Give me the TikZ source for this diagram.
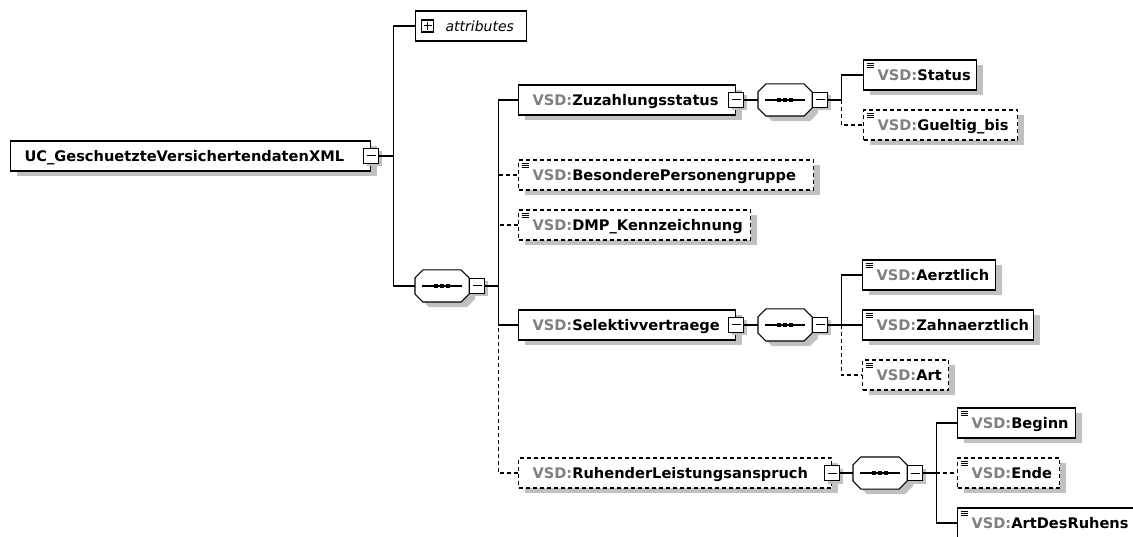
\documentclass[tikz,border=0pt]{standalone}
\usepackage{fontspec}
\newfontfamily\xsdfont{DejaVu Sans}
\usetikzlibrary{shadows}
\definecolor{vsdgray}{RGB}{128,128,128}
\definecolor{shadowgray}{RGB}{192,192,192}
\newcommand{\vsd}[1]{\textcolor{vsdgray}{VSD:}#1}
\tikzset{
  shade/.style={drop shadow={shadow xshift=#1, shadow yshift=-5pt, fill=shadowgray, draw=none, opacity=1}},
  elem/.style={draw, fill=white, anchor=west, minimum height=30pt, inner xsep=14pt, inner ysep=0pt,
    text height=10.5pt, text depth=0pt, align=left, shade=6pt,
    font=\xsdfont\bfseries\fontsize{14.6pt}{16pt}\selectfont},
  optelem/.style={elem, dash pattern=on 4pt off 3pt},
  optline/.style={dash pattern=on 4pt off 3pt},
  leaf/.style={path picture={\foreach \k in {3,5,7}
      \draw[solid, black, line width=0.8pt] ([xshift=3pt]path picture bounding box.north west) ++(0,\k) -- ++(7,0);}},
  minus/.style={draw, solid, fill=white, line width=1.5pt, minimum size=15pt, inner sep=0pt,
    drop shadow={shadow xshift=3pt, shadow yshift=-3pt, fill=shadowgray, draw=none, opacity=1},
    path picture={\draw[black, line width=1pt] ([xshift=3pt]path picture bounding box.west)
      -- ([xshift=-3pt]path picture bounding box.east);}},
  plus/.style={draw, fill=white, line width=1.4pt, minimum size=12pt, inner sep=0pt,
    path picture={\draw[black, line width=1pt] ([xshift=2pt]path picture bounding box.west)
      -- ([xshift=-2pt]path picture bounding box.east)
      ([yshift=2pt]path picture bounding box.south) -- ([yshift=-2pt]path picture bounding box.north);}},
  seqbase/.style={anchor=west, minimum width=53pt, minimum height=31pt, inner sep=0pt}
}
% sequence compositor: octagon with dots and its minus box
\newcommand{\seqbox}[2]{%
  \node[seqbase] (#1) at (#2) {};
  \filldraw[fill=white, shade=6pt] ([xshift=8pt]#1.north west) -- ([xshift=-8pt]#1.north east)
    -- ([yshift=-8pt]#1.north east) -- ([yshift=8pt]#1.south east) -- ([xshift=-8pt]#1.south east)
    -- ([xshift=8pt]#1.south west) -- ([yshift=8pt]#1.south west) -- ([yshift=-8pt]#1.north west) -- cycle;
  \draw ([xshift=7pt]#1.west) -- ([xshift=-7pt]#1.east);
  \foreach \d in {-6,0,6} \fill[black] (#1.center) +(\d-2,-2) rectangle +(\d+2,2);
  \node[minus] (#1-m) at ([xshift=8pt]#1.east) {};}
\begin{document}
\begin{tikzpicture}[x=1pt,y=-1pt,line width=1.1pt]
  \useasboundingbox (0,0) rectangle (1133,537);
  \clip (0,0) rectangle (1133,537);
  \fill[white] (0,0) rectangle (1133,537);

  % root and its content
  \node[elem, text width=332pt] (root) at (10,156) {UC\_GeschuetzteVersichertendatenXML};
  \node[minus] (root-m) at (root.east) {};
  \node[draw, anchor=west, minimum height=30pt, text width=89pt, inner xsep=11pt,
    font=\xsdfont\itshape\fontsize{14pt}{16pt}\selectfont] (attr) at (415,26) {\hspace*{19pt}attributes};
  \node[plus] (attr-p) at ([xshift=12.5pt]attr.west) {};
  \seqbox{ms}{415,286}

  % sequence children
  \node[elem, text width=189pt] (zuz) at (518,100) {\vsd{Zuzahlungsstatus}};
  \node[minus] (zuz-m) at (zuz.east) {};
  \node[optelem, leaf, text width=267pt] (bes) at (518,175) {\vsd{BesonderePersonengruppe}};
  \node[optelem, leaf, text width=204pt] (dmp) at (518,225) {\vsd{DMP\_Kennzeichnung}};
  \node[elem, text width=189pt] (sel) at (518,325) {\vsd{Selektivvertraege}};
  \node[minus] (sel-m) at (sel.east) {};
  \node[optelem, text width=285pt] (ruh) at (518,473) {\vsd{RuhenderLeistungsanspruch}};
  \node[minus] (ruh-m) at (ruh.east) {};

  % Zuzahlungsstatus
  \seqbox{zs}{758,100}
  \node[elem, leaf, text width=85pt] (sta) at (863,75) {\vsd{Status}};
  \node[optelem, leaf, text width=126pt] (gue) at (863,125) {\vsd{Gueltig\_bis}};

  % Selektivvertraege
  \seqbox{ss}{758,325}
  \node[elem, leaf, text width=105pt] (aer) at (862,275) {\vsd{Aerztlich}};
  \node[elem, leaf, text width=143pt] (zah) at (862,325) {\vsd{Zahnaerztlich}};
  \node[optelem, leaf, text width=58pt] (art) at (862,375) {\vsd{Art}};

  % RuhenderLeistungsanspruch
  \seqbox{rs}{853,473}
  \node[elem, leaf, text width=90pt] (beg) at (957,423) {\vsd{Beginn}};
  \node[optelem, leaf, text width=74pt] (ende) at (957,473) {\vsd{Ende}};
  \node[elem, leaf, text width=160pt] (adr) at (957,523) {\vsd{ArtDesRuhens}};

  % connectors
  \coordinate (j0) at ([xshift=14pt]root-m.east);
  \draw (root-m.east) -- (j0) |- (attr.west) (j0) |- (ms.west);
  \coordinate (j1) at ([xshift=13pt]ms-m.east);
  \draw (ms-m.east) -- (j1) |- (zuz.west) (j1) |- (sel.west);
  \draw[optline] (j1) |- (bes.west) (j1) |- (dmp.west) (j1) |- (ruh.west);
  \draw (zuz-m.east) -- (zs.west);
  \coordinate (j2) at ([xshift=13pt]zs-m.east);
  \draw (zs-m.east) -- (j2) |- (sta.west);
  \draw[optline] (j2) |- (gue.west);
  \draw (sel-m.east) -- (ss.west);
  \coordinate (j3) at ([xshift=13pt]ss-m.east);
  \draw (ss-m.east) -- (j3) |- (aer.west) (j3) |- (zah.west);
  \draw[optline] (j3) |- (art.west);
  \draw (ruh-m.east) -- (rs.west);
  \coordinate (j4) at ([xshift=13pt]rs-m.east);
  \draw (rs-m.east) -- (j4) |- (beg.west) (j4) |- (adr.west);
  \draw[optline] (j4) |- (ende.west);
\end{tikzpicture}
\end{document}
